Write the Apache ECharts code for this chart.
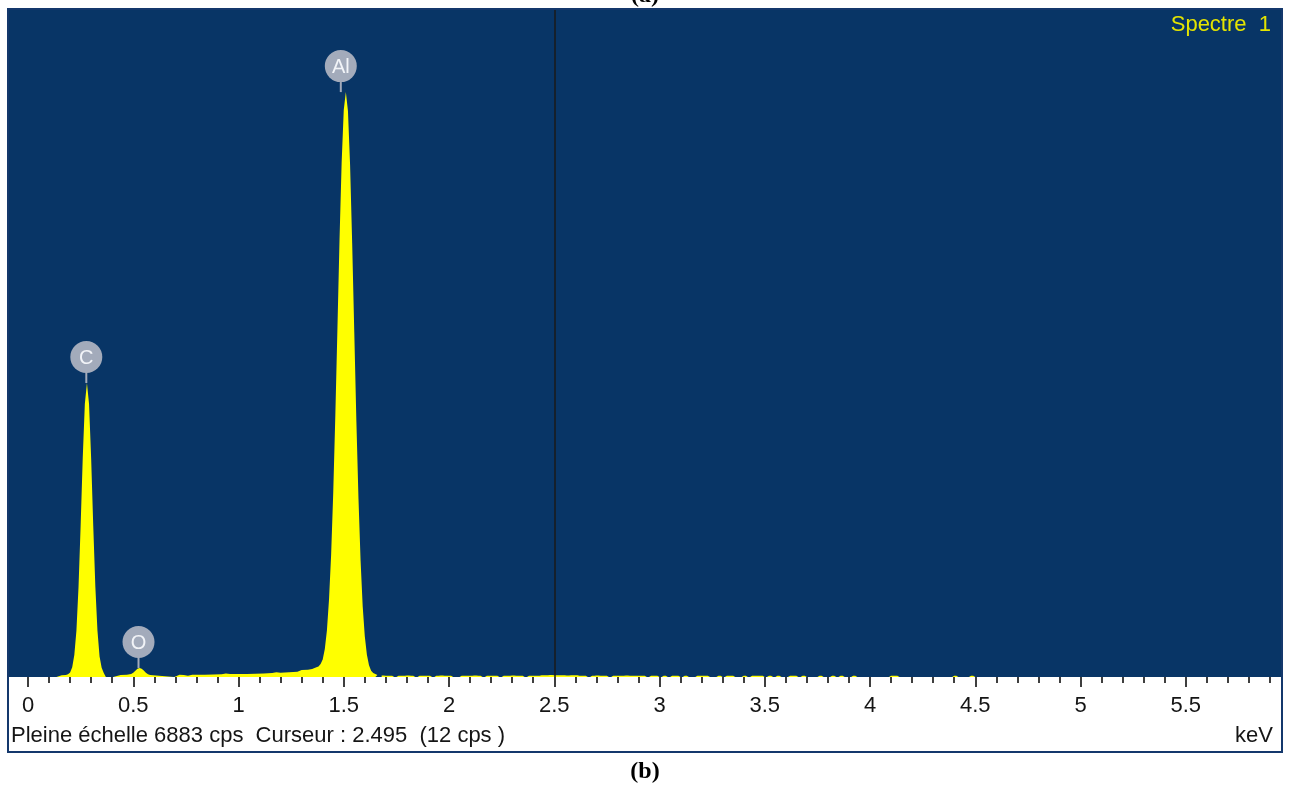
<!DOCTYPE html>
<html>
<head>
<meta charset="utf-8">
<title>Spectre 1</title>
<script src="https://cdn.jsdelivr.net/npm/echarts@6/dist/echarts.min.js"></script>
<style>
html, body { margin: 0; padding: 0; background: #fff; }
#spectre { width: 1291px; height: 787px; }
</style>
</head>
<body>
<div id="spectre"></div>
<script>
// spectre EDS, energie en keV, comptage en cps
var fullScaleCps = 6883;
var cursorKeV = 2.495;
var cursorCps = 12;

var mainKeV = [0.12, 0.135, 0.14, 0.16, 0.18, 0.19, 0.20, 0.21, 0.22, 0.23, 0.24, 0.25, 0.26, 0.27, 0.28, 0.29, 0.30, 0.31, 0.32, 0.33, 0.34, 0.35, 0.36, 0.365, 0.37,
	0.405, 0.41, 0.44, 0.47, 0.49, 0.50, 0.51, 0.52, 0.53, 0.54, 0.55, 0.56, 0.57, 0.58, 0.585,
	0.695, 0.70, 0.72, 0.74, 0.76, 0.78, 0.80, 0.84, 0.88, 0.92, 0.94, 0.96, 1.00, 1.04, 1.08, 1.12, 1.16, 1.18, 1.20, 1.24, 1.28, 1.30, 1.33, 1.35, 1.37, 1.38, 1.39,
	1.40, 1.41, 1.42, 1.43, 1.44, 1.45, 1.46, 1.47, 1.48, 1.49, 1.50, 1.51, 1.52, 1.53, 1.54, 1.55, 1.56, 1.57, 1.58, 1.59, 1.60, 1.61, 1.62, 1.63, 1.64, 1.65, 1.66];
var mainCps = [0, 0, 18, 18, 20, 29, 47, 101, 227, 477, 930, 1559, 2257, 2818, 3034, 2818, 2257, 1559, 930, 477, 212, 95, 40, 20, 0,
	0, 18, 20, 24, 32, 45, 65, 85, 93, 86, 66, 45, 28, 20, 0,
	0, 20, 22, 20, 12, 22, 22, 24, 25, 28, 36, 30, 30, 32, 34, 36, 40, 50, 45, 48, 55, 72, 76, 82, 100, 108, 135,
	180, 290, 480, 800, 1260, 1900, 2700, 3600, 4520, 5310, 5850, 6036, 5840, 5290, 4480, 3560, 2640, 1840, 1200, 730, 420, 230, 120, 65, 40, 30, 20];

// fond apres le pic Al, canaux de 0.02 keV
var tailStartKeV = 1.68;
var tailStepKeV = 0.02;
var tailCps = [15, 12, 12, 0, 12, 12, 15, 12, 0, 12, 12, 12, 0, 12, 15, 12, 12, 0, 0, 12, 12, 12, 15, 12, 0, 12, 12, 12, 0, 12, 12, 15, 12, 12, 0, 12, 12, 12,
	18, 18, 20, 18, 18, 18, 15, 18, 18,
	12, 12, 0, 12, 15, 12, 12, 0, 12, 12, 12, 15, 12, 12, 12,
	12, 0, 12, 12, 0, 12, 0, 12, 12, 0, 12, 0, 0, 12, 12,
	12, 0, 0, 12, 0, 12, 12, 0, 0, 12, 0, 12, 12, 12, 0,
	12, 0, 12, 0, 0, 12, 12, 0, 12, 0, 0, 0, 12, 0, 0, 12, 0, 12, 0, 0,
	12, 0, 0, 0, 0, 0, 0, 0, 0, 12, 12, 0, 0, 0, 0, 0, 0, 0, 0, 0, 0, 0, 0, 0, 12, 0, 0, 0, 12, 0, 12];

// raies identifiees
var lineNames = ['C', 'O', 'Al'];
var lineKeV = [0.277, 0.525, 1.486];
var linePeakCps = [3034, 93, 6036];

var xTickStep = 0.5;

var labelGray = '#a3abbb';
var plotBlue = '#083566';

function buildMain() {
	var out = [];
	for (var i = 0; i < mainKeV.length; i++) {
		out.push([mainKeV[i], mainCps[i]]);
	}
	return out;
}
function buildTail() {
	var out = [];
	for (var i = 0; i < tailCps.length; i++) {
		out.push([+(tailStartKeV + i * tailStepKeV).toFixed(2), tailCps[i]]);
	}
	return out;
}
function buildLines() {
	var out = [];
	for (var i = 0; i < lineNames.length; i++) {
		out.push([lineKeV[i], linePeakCps[i]]);
	}
	return out;
}

function renderLabel(params, api) {
	var p = api.coord([api.value(0), api.value(1)]);
	var cx = p[0], cy = p[1] - 26;
	return {
		type: 'group',
		children: [
			{ type: 'rect', shape: { x: cx - 1, y: cy + 12, width: 2, height: p[1] - cy - 12 }, style: { fill: labelGray } },
			{ type: 'circle', shape: { cx: cx, cy: cy, r: 16 }, style: { fill: labelGray } },
			{ type: 'text', style: {
				text: lineNames[params.dataIndex], x: cx, y: cy + 1,
				align: 'center', verticalAlign: 'middle',
				fill: '#f2f4f8', font: '20px "Liberation Sans", Arial, sans-serif'
			} }
		]
	};
}

var chart = echarts.init(document.getElementById('spectre'), null, { renderer: 'canvas' });

var option = {
	backgroundColor: '#ffffff',
	animation: false,
	grid: { left: 28, right: -2, top: 10, bottom: 110 },
	xAxis: {
		type: 'value',
		min: 0,
		max: 6,
		interval: xTickStep,
		axisLine: { show: false },
		splitLine: { show: false },
		axisTick: { show: true, length: 10, lineStyle: { color: '#000', width: 1.5 } },
		minorTick: { show: true, splitNumber: 5, length: 6, lineStyle: { color: '#000', width: 1.5 } },
		axisLabel: {
			margin: 29,
			verticalAlign: 'middle',
			showMaxLabel: false,
			color: '#151515',
			fontSize: 22,
			fontFamily: '"Liberation Sans", Arial, sans-serif'
		}
	},
	yAxis: {
		type: 'value',
		show: false,
		min: 0,
		max: fullScaleCps
	},
	graphic: [
		{ type: 'rect', z: -10, shape: { x: 9, y: 10, width: 1272, height: 667 }, style: { fill: plotBlue } },
		// cache le trait a 6 keV, hors du cadre
		{ type: 'rect', z: 40, shape: { x: 1283, y: 670, width: 8, height: 30 }, style: { fill: '#ffffff' } },
		{ type: 'rect', z: 50, shape: { x: 8, y: 9, width: 1274, height: 743 }, style: { fill: 'none', stroke: '#14386c', lineWidth: 2 } },
		{ type: 'text', z: 50, style: {
			text: 'Spectre  1', x: 1271, y: 25, align: 'right', verticalAlign: 'middle',
			fill: '#e4e400', font: '22px "Liberation Sans", Arial, sans-serif'
		} },
		{ type: 'text', z: 50, style: {
			text: 'Pleine échelle ' + fullScaleCps + ' cps  Curseur : ' + cursorKeV.toFixed(3) + '  (' + cursorCps + ' cps )',
			x: 11, y: 735.5, align: 'left', verticalAlign: 'middle',
			fill: '#151515', font: '22px "Liberation Sans", Arial, sans-serif'
		} },
		{ type: 'text', z: 50, style: {
			text: 'keV', x: 1273, y: 735.5, align: 'right', verticalAlign: 'middle',
			fill: '#151515', font: '22px "Liberation Sans", Arial, sans-serif'
		} },
		{ type: 'text', z: 50, style: {
			text: '(a)', x: 645, y: 8, align: 'center', verticalAlign: 'bottom',
			fill: '#000', font: 'bold 24px "Liberation Serif", "Times New Roman", serif'
		} },
		{ type: 'text', z: 50, style: {
			text: '(b)', x: 645, y: 772, align: 'center', verticalAlign: 'middle',
			fill: '#000', font: 'bold 24px "Liberation Serif", "Times New Roman", serif'
		} }
	],
	series: [
		{
			name: 'spectre',
			type: 'line',
			data: buildMain(),
			showSymbol: false,
			silent: true,
			lineStyle: { width: 0 },
			areaStyle: { color: '#ffff00', opacity: 1 },
			z: 3
		},
		{
			name: 'fond',
			type: 'line',
			step: 'middle',
			data: buildTail(),
			showSymbol: false,
			silent: true,
			lineStyle: { width: 0 },
			areaStyle: { color: '#ffff00', opacity: 1 },
			z: 3,
			markLine: {
				silent: true,
				symbol: ['none', 'none'],
				label: { show: false },
				lineStyle: { color: '#1a1a1a', width: 1.5, type: 'solid' },
				data: [{ xAxis: cursorKeV }]
			}
		},
		{
			name: 'raies',
			type: 'custom',
			data: buildLines(),
			renderItem: renderLabel,
			silent: true,
			clip: false,
			z: 5
		}
	]
};
chart.setOption(option);
window.onresize = chart.resize;
</script>
</body>
</html>
